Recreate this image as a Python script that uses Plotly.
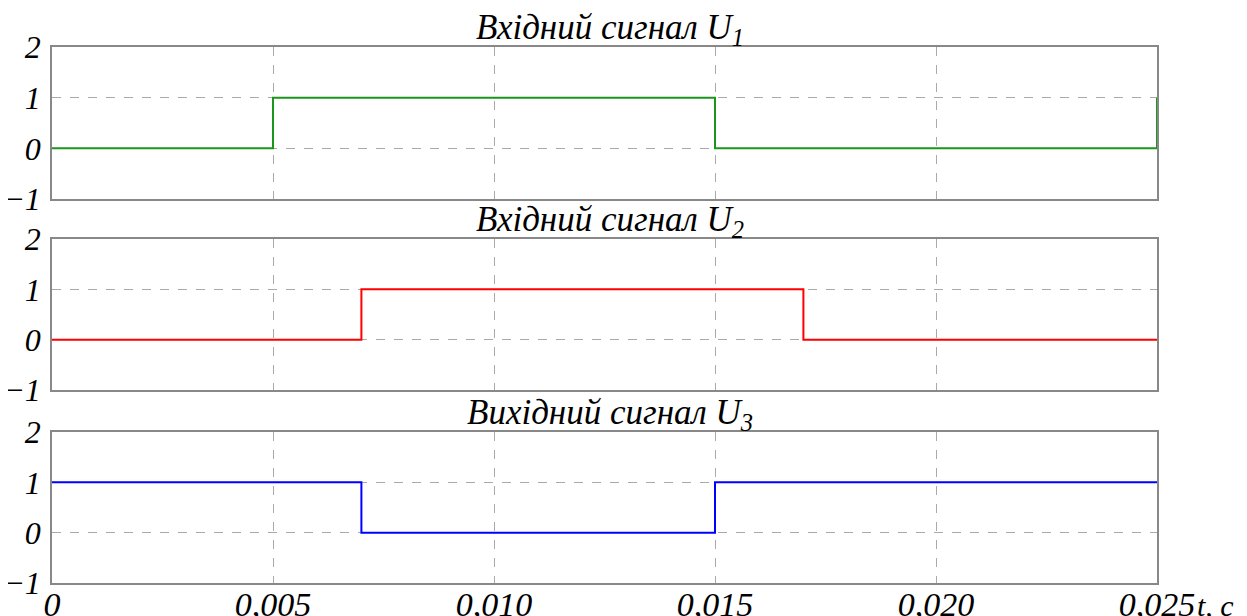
import plotly.graph_objects as go

# Data
t_u1 = [0, 0.005, 0.015, 0.025, 0.025]
u1 = [0, 1, 0, 0, 1]
t_u2 = [0, 0.007, 0.017, 0.025]
u2 = [0, 1, 0, 0]
t_u3 = [0, 0.007, 0.015, 0.025]
u3 = [1, 0, 1, 1]

x_tickvals = [0, 0.005, 0.010, 0.015, 0.020, 0.025]
x_ticktext = ["0", "0,005", "0,010", "0,015", "0,020", "0,025"]
y_tickvals = [-1, 0, 1, 2]
y_ticktext = ["\u22121", "0", "1", "2"]
titles = ["Вхідний сигнал U<sub>1</sub>", "Вхідний сигнал U<sub>2</sub>", "Вихідний сигнал U<sub>3</sub>"]
colors = ["#1a961a", "#ff0000", "#0000ff"]

FONT = "Liberation Serif"
FS = 35
fig = go.Figure()

series = [(t_u1, u1), (t_u2, u2), (t_u3, u3)]
domains = [[0.7164, 1.0], [0.3601, 0.6418], [0.0, 0.2817]]

for i, ((tx, ty), col) in enumerate(zip(series, colors)):
    n = i + 1
    xa = "x" if n == 1 else f"x{n}"
    ya = "y" if n == 1 else f"y{n}"
    fig.add_trace(go.Scatter(x=tx, y=ty, mode="lines", line=dict(color=col, width=2, shape="hv"),
                             xaxis=xa, yaxis=ya, showlegend=False, hoverinfo="skip"))
    axis_common = dict(showline=True, linecolor="#888888", linewidth=1.5, mirror=True,
                       showgrid=True, gridcolor="#aaaaaa", griddash="dash", gridwidth=1,
                       zeroline=False, ticks="", automargin=False)
    xkey = "xaxis" if n == 1 else f"xaxis{n}"
    ykey = "yaxis" if n == 1 else f"yaxis{n}"
    fig.layout[xkey] = dict(axis_common, range=[0, 0.025], tickvals=x_tickvals,
                            ticktext=[f"<i>{t}</i>" for t in x_ticktext],
                            showticklabels=(n == 3), anchor=ya, domain=[0, 1],
                            ticklabelstandoff=-10,
                            tickfont=dict(family=FONT, size=34, color="black"))
    fig.layout[ykey] = dict(axis_common, range=[-1, 2], tickvals=y_tickvals,
                            ticktext=[f"<i>{t}</i>" for t in y_ticktext],
                            anchor=xa, domain=domains[i], ticklabelstandoff=3,
                            tickfont=dict(family=FONT, size=32, color="black"))
    fig.add_annotation(x=0.505, y=domains[i][1], xref="paper", yref="paper",
                       text=f"<i>{titles[i]}</i>", showarrow=False, yanchor="bottom",
                       yshift=-6, font=dict(family=FONT, size=FS, color="black"))

fig.add_annotation(x=1.0, y=0, xref="paper", yref="paper", text="<i>t, c</i>",
                   showarrow=False, xanchor="left", yanchor="top", xshift=38, yshift=-4,
                   font=dict(family=FONT, size=30, color="black"))

# the page body has an 8px margin, so the figure is sized and offset to fit the window
fig.update_layout(width=1239, height=608, margin=dict(l=44, r=90, t=39, b=33),
                  plot_bgcolor="white", paper_bgcolor="white")

fig.write_html("out.html")
